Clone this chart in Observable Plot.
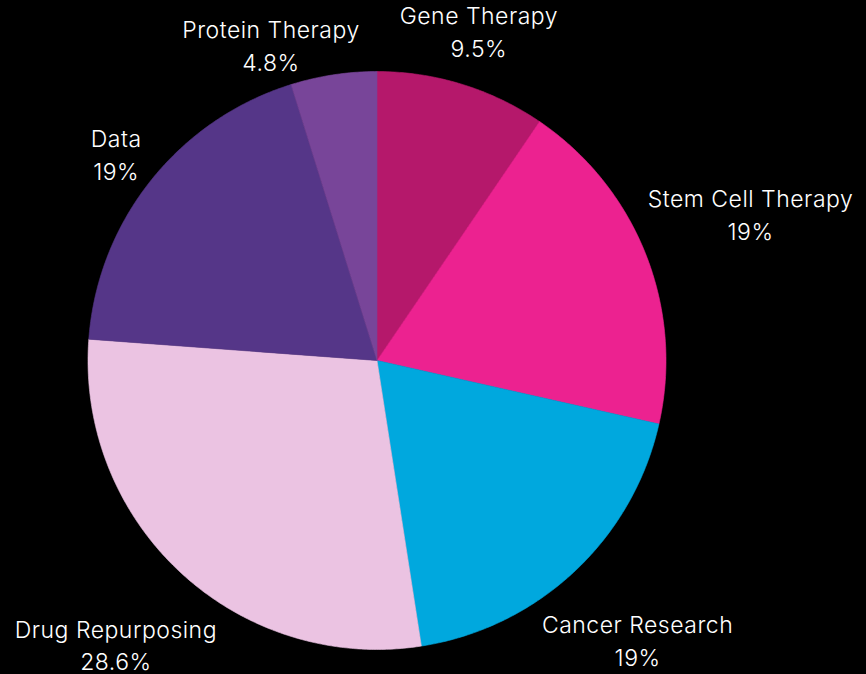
<!DOCTYPE html>
<html>
<head>
<meta charset="utf-8">
<script src="https://cdn.jsdelivr.net/npm/d3@7"></script>
<script src="https://cdn.jsdelivr.net/npm/@observablehq/plot@0.6"></script>
<style>
  html, body { margin: 0; padding: 0; background: #000; }
  #chart svg { display: block; }
</style>
</head>
<body>
<div id="chart"></div>
<script>
// ---- data ----
const categories = ["Gene Therapy", "Stem Cell Therapy", "Cancer Research", "Drug Repurposing", "Data", "Protein Therapy"];
const shares = [9.5, 19, 19, 28.6, 19, 4.8];
const shareLabels = ["9.5%", "19%", "19%", "28.6%", "19%", "4.8%"];
const sliceColors = ["#b5186b", "#ec2290", "#00a8de", "#ebc3e2", "#553688", "#784599"];

// ---- layout ----
const W = 866, H = 674;
const cx = 376.5, cy = 360, R = 289;
const fontFamily = "Inter, 'Open Sans', sans-serif";
const fontSize = 23, fontWeight = 300, lineHeight = 1.43, letterSpacing = 0.5;

const pie = d3.pie().sort(null).value(d => d)(shares);

// polygon vertices for each wedge (unit circle, y up)
const wedgeRows = [];
pie.forEach((p, i) => {
  const cat = categories[i];
  wedgeRows.push({cat, x: 0, y: 0});
  const n = Math.max(2, Math.ceil((p.endAngle - p.startAngle) / (Math.PI / 360)));
  for (let k = 0; k <= n; k++) {
    const a = p.startAngle + (p.endAngle - p.startAngle) * k / n;
    wedgeRows.push({cat, x: Math.sin(a), y: Math.cos(a)});
  }
  wedgeRows.push({cat, x: 0, y: 0});
});

// label placement (outside, box touching a ring beyond the pie)
const ctx = document.createElement("canvas").getContext("2d");
ctx.font = `${fontWeight} ${fontSize}px ${fontFamily}`;
const measure = s => ctx.measureText(s).width + letterSpacing * s.length;
const boxH = 57;
const pad = 6.5;
const labels = pie.map((p, i) => {
  const a = (p.startAngle + p.endAngle) / 2;
  const w = Math.max(measure(categories[i]), measure(shareLabels[i]));
  const s = Math.sin(a), c = Math.cos(a);
  const d = R + pad + Math.abs(s) * w / 2 + Math.abs(c) * boxH / 2;
  return {i, w, d, px: cx + s * d, py: cy - c * d};
});
// resolve overlaps between neighbouring labels: push the left one further left
for (let k = 0; k < labels.length; k++) {
  const A = labels[k], B = labels[(k + 1) % labels.length];
  const overlapX = Math.abs(A.px - B.px) < (A.w + B.w) / 2;
  const overlapY = Math.abs(A.py - B.py) < boxH;
  if (overlapX && overlapY) {
    const [L, Rt] = A.px < B.px ? [A, B] : [B, A];
    const gap = 40;
    const nx = Rt.px - Rt.w / 2 - gap - L.w / 2;
    const dx = nx - cx;
    const sgn = L.py < cy ? -1 : 1;
    const dy = Math.sqrt(Math.max(0, L.d * L.d - dx * dx));
    L.px = nx;
    L.py = cy + sgn * dy + 3;
  }
}
const labelRows = labels.map(l => ({
  text: categories[l.i] + "\n" + shareLabels[l.i],
  x: (l.px - cx) / R,
  y: (cy - l.py) / R
}));

const chart = Plot.plot({
  width: W,
  height: H,
  margin: 0,
  style: {background: "#000", overflow: "visible", letterSpacing: letterSpacing + "px"},
  x: {domain: [-1, 1], range: [cx - R, cx + R], axis: null},
  y: {domain: [-1, 1], range: [cy + R, cy - R], axis: null},
  color: {domain: categories, range: sliceColors},
  marks: [
    Plot.line(wedgeRows, {x: "x", y: "y", z: "cat", fill: "cat", stroke: "cat", strokeWidth: 0.6, curve: "linear"}),
    Plot.text(labelRows, {
      x: "x", y: "y", text: "text",
      fill: "white", fontSize, fontWeight, fontFamily,
      lineHeight, textAnchor: "middle", lineAnchor: "middle"
    })
  ]
});
document.getElementById("chart").append(chart);
</script>
</body>
</html>
